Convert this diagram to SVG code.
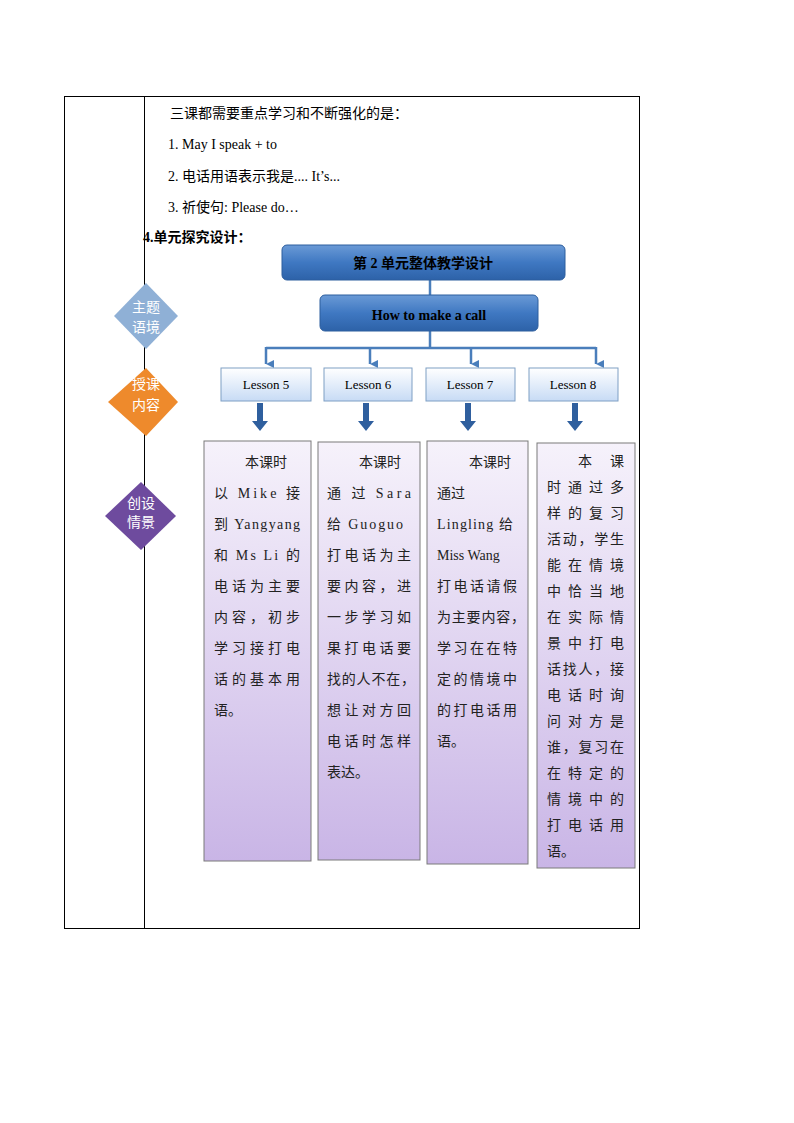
<svg xmlns="http://www.w3.org/2000/svg" width="794" height="1123" viewBox="0 0 794 1123">
<defs>
<linearGradient id="blue" x1="0" y1="0" x2="0" y2="1"><stop offset="0" stop-color="#6a9ad6"/><stop offset="0.5" stop-color="#3f78c2"/><stop offset="1" stop-color="#2d62a8"/></linearGradient>
<linearGradient id="lblue" x1="0" y1="0" x2="0" y2="1"><stop offset="0" stop-color="#ffffff"/><stop offset="1" stop-color="#c7dbf5"/></linearGradient>
<linearGradient id="purp" x1="0" y1="0" x2="0" y2="1"><stop offset="0" stop-color="#f6f2fb"/><stop offset="1" stop-color="#c9b5e6"/></linearGradient>
<marker id="ah" viewBox="0 0 10 10" refX="5" refY="10" markerWidth="8" markerHeight="8" orient="auto" markerUnits="userSpaceOnUse"><path d="M0,0 L10,0 L5,10 z" fill="#4a7ebb"/></marker>
</defs>
<style>
text{font-family:"Liberation Serif","Noto Sans CJK SC",serif;fill:#000}
.t{font-size:14px}
.b{font-size:14px;fill:#222}
.bd{font-weight:bold}
.dm{font-size:14px;fill:#fff;text-anchor:middle}
.ls{font-size:13px;text-anchor:middle}
.tb{stroke:#7a7a7a;stroke-width:1;fill:url(#purp)}
.con{stroke:#4a7ebb;stroke-width:2.5;fill:none}
.thick{fill:#2f5f9e}
</style>
<rect x="64.5" y="96.5" width="575" height="832" fill="none" stroke="#000"/>
<line x1="144.5" y1="96" x2="144.5" y2="928" stroke="#000"/>
<text class="t" x="170" y="118">三课都需要重点学习和不断强化的是：</text>
<text class="t" x="168" y="149">1. May I speak + to</text>
<text class="t" x="168" y="181">2.  电话用语表示我是.... It’s...</text>
<text class="t" x="168" y="212">3.  祈使句: Please do…</text>
<text class="t bd" x="143" y="242">4.单元探究设计：</text>

<g id="d1"><polygon points="146,283 178,316 146,349 114,316" fill="#8fb0d6"/><text class="dm" x="146" y="312">主题</text><text class="dm" x="146" y="332">语境</text></g>
<g id="d2"><polygon points="146,368 178,402 146,436 108,402" fill="#ee8a2c"/><text class="dm" x="146" y="389">授课</text><text class="dm" x="146" y="410">内容</text></g>
<g id="d3"><polygon points="141,482 176,516 141,550 105,516" fill="#6e4b9e"/><text class="dm" x="141" y="508">创设</text><text class="dm" x="141" y="527">情景</text></g>

<g id="connectors">
<line class="con" x1="430" y1="280" x2="430" y2="295"/>
<line class="con" x1="430" y1="331" x2="430" y2="348"/>
<line class="con" x1="266" y1="348" x2="596" y2="348"/>
<line class="con" x1="266" y1="347" x2="266" y2="364" marker-end="url(#ah)"/>
<line class="con" x1="370" y1="347" x2="370" y2="364" marker-end="url(#ah)"/>
<line class="con" x1="471" y1="347" x2="471" y2="364" marker-end="url(#ah)"/>
<line class="con" x1="596" y1="347" x2="596" y2="364" marker-end="url(#ah)"/>
<path class="thick" d="M257,403 h6 v18 h5 l-8,10 l-8,-10 h5 z"/>
<path class="thick" d="M363,403 h6 v18 h5 l-8,10 l-8,-10 h5 z"/>
<path class="thick" d="M465,403 h6 v18 h5 l-8,10 l-8,-10 h5 z"/>
<path class="thick" d="M572,403 h6 v18 h5 l-8,10 l-8,-10 h5 z"/>
</g>

<g id="top"><rect x="282" y="245" width="283" height="35" rx="5" fill="url(#blue)" stroke="#2d5e9e"/><text x="423" y="268" class="bd" font-size="14" text-anchor="middle">第 2 单元整体教学设计</text></g>
<g id="sub"><rect x="320" y="295" width="218" height="36" rx="5" fill="url(#blue)" stroke="#2d5e9e"/><text x="429" y="320" class="bd" font-size="14" text-anchor="middle">How to make a call</text></g>

<g id="l5"><rect x="221" y="368" width="90" height="33" fill="url(#lblue)" stroke="#7f9fc4"/><text class="ls" x="266" y="389">Lesson 5</text></g>
<g id="l6"><rect x="324" y="368" width="88" height="33" fill="url(#lblue)" stroke="#7f9fc4"/><text class="ls" x="368" y="389">Lesson 6</text></g>
<g id="l7"><rect x="426" y="368" width="89" height="33" fill="url(#lblue)" stroke="#7f9fc4"/><text class="ls" x="470" y="389">Lesson 7</text></g>
<g id="l8"><rect x="529" y="368" width="89" height="33" fill="url(#lblue)" stroke="#7f9fc4"/><text class="ls" x="573" y="389">Lesson 8</text></g>

<g id="c1"><rect class="tb" x="204" y="441" width="107" height="420"/>
<text class="b" x="245" y="467">本课时</text>
<text class="b" x="214" y="498" textLength="86" lengthAdjust="spacing">以 Mike 接</text>
<text class="b" x="214" y="529" textLength="86" lengthAdjust="spacing">到 Yangyang</text>
<text class="b" x="214" y="560" textLength="86" lengthAdjust="spacing">和 Ms Li 的</text>
<text class="b" x="214" y="591" textLength="86" lengthAdjust="spacing">电话为主要</text>
<text class="b" x="214" y="622" textLength="86" lengthAdjust="spacing">内容，初步</text>
<text class="b" x="214" y="653" textLength="86" lengthAdjust="spacing">学习接打电</text>
<text class="b" x="214" y="684" textLength="86" lengthAdjust="spacing">话的基本用</text>
<text class="b" x="214" y="715">语。</text></g>

<g id="c2"><rect class="tb" x="318" y="442" width="102" height="418"/>
<text class="b" x="359" y="467">本课时</text>
<text class="b" x="327" y="498" textLength="84" lengthAdjust="spacing">通 过 Sara</text>
<text class="b" x="327" y="529" textLength="76" lengthAdjust="spacing">给 Guoguo</text>
<text class="b" x="327" y="560" textLength="84" lengthAdjust="spacing">打电话为主</text>
<text class="b" x="327" y="591" textLength="84" lengthAdjust="spacing">要内容，进</text>
<text class="b" x="327" y="622" textLength="84" lengthAdjust="spacing">一步学习如</text>
<text class="b" x="327" y="653" textLength="84" lengthAdjust="spacing">果打电话要</text>
<text class="b" x="327" y="684" textLength="88" lengthAdjust="spacing">找的人不在，</text>
<text class="b" x="327" y="715" textLength="84" lengthAdjust="spacing">想让对方回</text>
<text class="b" x="327" y="746" textLength="84" lengthAdjust="spacing">电话时怎样</text>
<text class="b" x="327" y="777">表达。</text></g>

<g id="c3"><rect class="tb" x="427" y="441" width="101" height="423"/>
<text class="b" x="469" y="467">本课时</text>
<text class="b" x="437" y="498">通过</text>
<text class="b" x="437" y="529" textLength="76" lengthAdjust="spacing">Lingling  给</text>
<text class="b" x="437" y="560">Miss Wang</text>
<text class="b" x="437" y="591" textLength="80" lengthAdjust="spacing">打电话请假</text>
<text class="b" x="437" y="622" textLength="88" lengthAdjust="spacing">为主要内容，</text>
<text class="b" x="437" y="653" textLength="80" lengthAdjust="spacing">学习在在特</text>
<text class="b" x="437" y="684" textLength="80" lengthAdjust="spacing">定的情境中</text>
<text class="b" x="437" y="715" textLength="80" lengthAdjust="spacing">的打电话用</text>
<text class="b" x="437" y="746">语。</text></g>

<g id="c4"><rect class="tb" x="537" y="443" width="98" height="425"/>
<text class="b" x="578" y="466" textLength="46" lengthAdjust="spacing">本 课</text>
<text class="b" x="547" y="492" textLength="77" lengthAdjust="spacing">时通过多</text>
<text class="b" x="547" y="518" textLength="77" lengthAdjust="spacing">样的复习</text>
<text class="b" x="547" y="544" textLength="77" lengthAdjust="spacing">活动，学生</text>
<text class="b" x="547" y="570" textLength="77" lengthAdjust="spacing">能在情境</text>
<text class="b" x="547" y="596" textLength="77" lengthAdjust="spacing">中恰当地</text>
<text class="b" x="547" y="622" textLength="77" lengthAdjust="spacing">在实际情</text>
<text class="b" x="547" y="648" textLength="77" lengthAdjust="spacing">景中打电</text>
<text class="b" x="547" y="674" textLength="77" lengthAdjust="spacing">话找人，接</text>
<text class="b" x="547" y="700" textLength="77" lengthAdjust="spacing">电话时询</text>
<text class="b" x="547" y="726" textLength="77" lengthAdjust="spacing">问对方是</text>
<text class="b" x="547" y="752" textLength="77" lengthAdjust="spacing">谁，复习在</text>
<text class="b" x="547" y="778" textLength="77" lengthAdjust="spacing">在特定的</text>
<text class="b" x="547" y="804" textLength="77" lengthAdjust="spacing">情境中的</text>
<text class="b" x="547" y="830" textLength="77" lengthAdjust="spacing">打电话用</text>
<text class="b" x="547" y="856">语。</text></g>
</svg>
